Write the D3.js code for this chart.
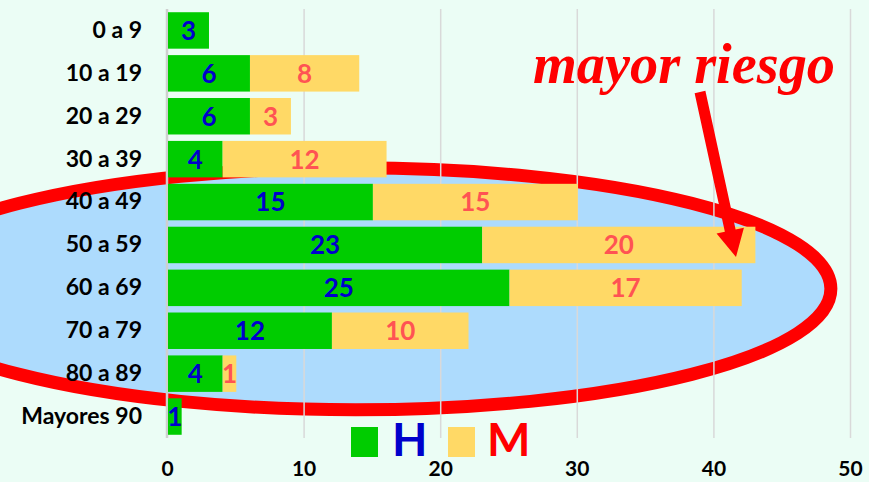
<!DOCTYPE html>
<html>
<head>
<meta charset="utf-8">
<script src="https://cdn.jsdelivr.net/npm/d3@7"></script>
<style>
  body { margin: 0; background: #ebfdf5; }
  svg { display: block; }
</style>
</head>
<body>
<div id="chart"></div>
<script>
// Data
const categories = ["0 a 9", "10 a 19", "20 a 29", "30 a 39", "40 a 49", "50 a 59", "60 a 69", "70 a 79", "80 a 89", "Mayores 90"];
const hombres = [3, 6, 6, 4, 15, 23, 25, 12, 4, 1];
const mujeres = [0, 8, 3, 12, 15, 20, 17, 10, 1, 0];
const xTicks = [0, 10, 20, 30, 40, 50];
const seriesKeys = ["H", "M"];
const seriesColors = ["#00cc00", "#ffd966"];
const labelColors = ["#0000cc", "#ff5353"];

// Global const
const W = 869, H = 482;
var margin = {top: 9, right: 19, bottom: 44, left: 167};
const w = W - margin.left - margin.right;
const h = H - margin.top - margin.bottom;
const font = "Lato, 'Open Sans', sans-serif";

let svg = d3.select("#chart")
            .append("svg")
              .attr("width", W)
              .attr("height", H);

svg.append("rect")
  .attr("width", W)
  .attr("height", H)
  .attr("fill", "#ebfdf5");

let g = svg.append("g")
  .attr("transform", "translate(" + margin.left + "," + margin.top + ")");

// Scales
let x = d3.scaleLinear().domain([0, 50]).range([0, w]);
let y = d3.scaleBand().domain(categories).range([0, h]).paddingInner(0.15).paddingOuter(0.075);

// Ellipse (behind grid)
g.append("ellipse")
  .attr("cx", x(13.8))
  .attr("cy", y("60 a 69") + y.bandwidth() / 2 + 1)
  .attr("rx", x(34.8))
  .attr("ry", 121)
  .attr("fill", "#addbfd")
  .attr("stroke", "#ff0000")
  .attr("stroke-width", 13);

// Grid lines
g.append("g")
  .attr("transform", "translate(0," + h + ")")
  .call(d3.axisBottom(x).tickValues(xTicks.slice(1)).tickSize(-h).tickFormat(""))
  .call(a => a.select(".domain").remove())
  .selectAll("line")
    .attr("stroke", "#d9d9d9")
    .attr("stroke-width", 1.5);

// Vertical axis line at 0
g.append("line")
  .attr("x1", x(0)).attr("x2", x(0))
  .attr("y1", 0).attr("y2", h)
  .attr("stroke", "#cfcfcf")
  .attr("stroke-width", 2.5);

// Stack data
let rows = categories.map((c, i) => ({cat: c, H: hombres[i], M: mujeres[i]}));
let stacked = d3.stack().keys(seriesKeys)(rows);

// Bars
let layers = g.selectAll("g.layer")
  .data(stacked)
  .enter()
  .append("g")
    .attr("class", "layer")
    .attr("fill", (d, i) => seriesColors[i]);

layers.selectAll("rect")
  .data(d => d.filter(p => p[1] - p[0] > 0))
  .enter()
  .append("rect")
    .attr("x", d => x(d[0]) + 1)
    .attr("y", d => y(d.data.cat))
    .attr("width", d => x(d[1]) - x(d[0]))
    .attr("height", y.bandwidth());

// Value labels
layers.selectAll("text")
  .data(d => d.filter(p => p[1] - p[0] > 0))
  .enter()
  .append("text")
    .attr("x", d => x((d[0] + d[1]) / 2) + 1)
    .attr("y", d => y(d.data.cat) + y.bandwidth() / 2)
    .attr("dy", "0.36em")
    .attr("text-anchor", "middle")
    .attr("font-family", font)
    .attr("font-weight", "bold")
    .attr("font-size", "26px")
    .attr("fill", function() { return labelColors[seriesKeys.indexOf(d3.select(this.parentNode).datum().key)]; })
    .text(d => d[1] - d[0]);

// Category axis
g.append("g")
  .call(d3.axisLeft(y).tickSize(0).tickPadding(25))
  .call(a => a.select(".domain").remove())
  .selectAll("text")
    .attr("font-family", font)
    .attr("font-weight", "bold")
    .attr("font-size", "23px")
    .attr("fill", "#000");

// X axis labels
g.append("g")
  .attr("transform", "translate(0," + h + ")")
  .call(d3.axisBottom(x).tickValues(xTicks).tickSize(0).tickPadding(23))
  .call(a => a.select(".domain").remove())
  .selectAll("text")
    .attr("font-family", font)
    .attr("font-weight", "bold")
    .attr("font-size", "21px")
    .attr("fill", "#000");

// Legend
let legend = svg.append("g").attr("transform", "translate(351,427)");
legend.append("rect").attr("x", 0).attr("y", 0).attr("width", 27).attr("height", 30).attr("fill", seriesColors[0]);
legend.append("text").attr("x", 41).attr("y", 29)
  .attr("font-family", font).attr("font-weight", "bold").attr("font-size", "46px")
  .attr("fill", "#0000cc").text("H");
legend.append("rect").attr("x", 97).attr("y", 0).attr("width", 27).attr("height", 30).attr("fill", seriesColors[1]);
legend.append("text").attr("x", 136).attr("y", 29)
  .attr("font-family", font).attr("font-weight", "bold").attr("font-size", "46px")
  .attr("fill", "#ff0000").text("M");

// Annotation
svg.append("text")
  .attr("x", 533)
  .attr("y", 83)
  .attr("font-family", "'Liberation Serif', 'DejaVu Serif', serif")
  .attr("font-style", "italic")
  .attr("font-weight", "bold")
  .attr("font-size", "58px")
  .attr("textLength", 302)
  .attr("lengthAdjust", "spacingAndGlyphs")
  .attr("fill", "#ff0000")
  .text("mayor riesgo");

// Arrow
let x0 = 700, y0 = 92, x1 = 736, y1 = 257;
let len = Math.hypot(x1 - x0, y1 - y0);
let ux = (x1 - x0) / len, uy = (y1 - y0) / len;
let nx = -uy, ny = ux;
let bx = x1 - 27 * ux, by = y1 - 27 * uy;
let pts = [
  [x0 + nx * 5.5, y0 + ny * 5.5],
  [bx + nx * 5.5, by + ny * 5.5],
  [bx + nx * 14, by + ny * 14],
  [x1, y1],
  [bx - nx * 14, by - ny * 14],
  [bx - nx * 5.5, by - ny * 5.5],
  [x0 - nx * 5.5, y0 - ny * 5.5]
];
svg.append("path")
  .attr("d", d3.line()(pts) + "Z")
  .attr("fill", "#ff0000");
</script>
</body>
</html>
